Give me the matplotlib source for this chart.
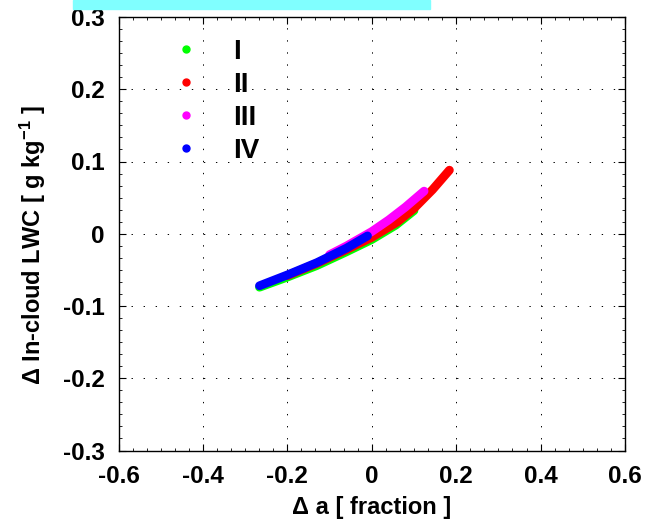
import matplotlib
matplotlib.use("Agg")
import matplotlib.pyplot as plt
from matplotlib.lines import Line2D
from matplotlib.patches import Rectangle
from matplotlib.ticker import AutoMinorLocator

plt.rcParams['font.family'] = ['Liberation Sans', 'DejaVu Sans']
plt.rcParams['font.weight'] = 'bold'
plt.rcParams['mathtext.fontset'] = 'custom'
plt.rcParams['mathtext.rm'] = 'Liberation Sans:bold'
plt.rcParams['mathtext.default'] = 'regular'

# values (delta a, delta LWC) for each group
labels = ["I", "II", "III", "IV"]
colors = ["#00ff00", "#ff0000", "#ff00ff", "#0000ff"]

green_x = [-0.266, -0.20, -0.13, -0.06, 0.0, 0.057, 0.10]
green_y = [-0.074, -0.060, -0.044, -0.025, -0.008, 0.012, 0.032]
red_x = [-0.20, -0.13, -0.06, 0.0, 0.06, 0.10, 0.144, 0.184]
red_y = [-0.058, -0.041, -0.022, -0.005, 0.016, 0.035, 0.061, 0.088]
mag_x = [-0.10, -0.06, 0.0, 0.04, 0.08, 0.124]
mag_y = [-0.029, -0.017, 0.003, 0.019, 0.037, 0.059]
blue_x = [-0.266, -0.20, -0.13, -0.06, -0.01]
blue_y = [-0.072, -0.057, -0.040, -0.020, -0.003]

xs = [green_x, red_x, mag_x, blue_x]
ys = [green_y, red_y, mag_y, blue_y]

xticks = [-0.6, -0.4, -0.2, 0, 0.2, 0.4, 0.6]
xticklabels = ["-0.6", "-0.4", "-0.2", "0", "0.2", "0.4", "0.6"]
yticks = [-0.3, -0.2, -0.1, 0, 0.1, 0.2, 0.3]
yticklabels = ["-0.3", "-0.2", "-0.1", "0", "0.1", "0.2", "0.3"]

fig = plt.figure(figsize=(6.5, 5.23), dpi=100)
ax = fig.add_axes([118.5/650, 1-450.5/523, 506.5/650, 433.5/523])

# cyan strip at the top edge of the picture
fig.patches.append(Rectangle((73/650, 1-9/523), 357/650, 9/523,
                             transform=fig.transFigure, color="#80ffff", zorder=0))

for x, y, c in zip(xs, ys, colors):
    ax.plot(x, y, color=c, lw=6.3, solid_capstyle="round", solid_joinstyle="round")

ax.set_xticks(xticks)
ax.set_xticklabels(xticklabels)
ax.set_yticks(yticks)
ax.set_yticklabels(yticklabels)
ax.xaxis.set_minor_locator(AutoMinorLocator(6))
ax.yaxis.set_minor_locator(AutoMinorLocator(6))
ax.set_xlim(-0.6, 0.6)
ax.set_ylim(-0.3, 0.3)

ax.tick_params(which="both", direction="in", top=True, right=True, labelsize=17.5)
ax.tick_params(which="major", length=5, width=0.8)
ax.tick_params(which="minor", length=2.5, width=0.6)
ax.tick_params(axis="x", pad=10.5)
ax.tick_params(axis="y", pad=10)
for s in ax.spines.values():
    s.set_linewidth(1.0)

ax.grid(True, which="major", color="black", linestyle=(0, (1.4, 11)), linewidth=0.7)

ax.set_xlabel("Δ a [ fraction ]", fontsize=17, fontweight="bold")
ax.set_ylabel("Δ In-cloud LWC [ g kg$^{-1}$ ]", fontsize=17, fontweight="bold")
ax.xaxis.set_label_coords(0.5, -0.105)
ax.yaxis.set_label_coords(-0.14, 0.475)

handles = [Line2D([], [], ls="none", marker="o", ms=5, color=c) for c in colors]
ax.legend(handles, labels, loc="upper left", bbox_to_anchor=(0.105, 0.95),
          frameon=False, fontsize=20, handlelength=1.0, handletextpad=1.2,
          labelspacing=0.25, borderpad=0, borderaxespad=0)

fig.savefig("out.png", dpi=100)
